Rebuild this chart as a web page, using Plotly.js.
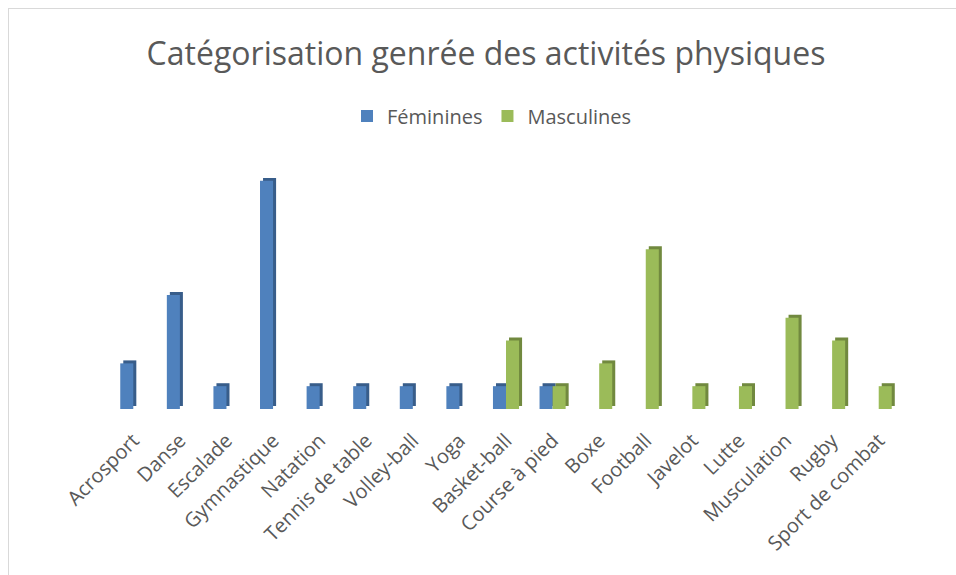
<!DOCTYPE html>
<html>
<head>
<meta charset="utf-8">
<script src="https://cdn.plot.ly/plotly-3.0.1.min.js"></script>
<style>
  html, body { margin: 0; padding: 0; background: #ffffff; overflow: hidden; }
  #wrap { position: relative; width: 956px; height: 575px; }
  #chart { width: 956px; height: 575px; }
  #frame { position: absolute; left: 8px; top: 8px; width: 960px; height: 600px;
           border: 1px solid #d9d9d9; pointer-events: none; box-sizing: border-box; }
</style>
</head>
<body>
<div id="wrap">
  <div id="chart"></div>
  <div id="frame"></div>
</div>
<script>
const categories = ["Acrosport", "Danse", "Escalade", "Gymnastique", "Natation",
  "Tennis de table", "Volley-ball", "Yoga", "Basket-ball", "Course à pied",
  "Boxe", "Football", "Javelot", "Lutte", "Musculation", "Rugby", "Sport de combat"];
const feminines  = [2, 5, 1, 10, 1, 1, 1, 1, 1, 1, null, null, null, null, null, null, null];
const masculines = [null, null, null, null, null, null, null, null, 3, 1, 2, 7, 1, 1, 4, 3, 1];
const seriesNames = ["Féminines", "Masculines"];

const FONT = "Open Sans, Lato, sans-serif";
const blue = "#4F81BD", blueDark = "#385D8A";
const green = "#9BBB59", greenDark = "#71893F";
const W = 0.28, D = 0.065, LIFT = 0.13;

function depth(y, color, off) {
  return { type: "bar", x: categories, y: y, base: LIFT, width: W, offset: off + D,
    marker: { color: color, line: { width: 0 } }, showlegend: false, hoverinfo: "skip" };
}
function front(y, color, off, name) {
  return { type: "bar", x: categories, y: y, width: W, offset: off, name: name,
    marker: { color: color, line: { width: 0 } } };
}

const data = [
  depth(feminines, blueDark, -W),
  front(feminines, blue, -W, seriesNames[0]),
  depth(masculines, greenDark, 0),
  front(masculines, green, 0, seriesNames[1])
];

const layout = {
  width: 956, height: 575,
  margin: { l: 110, r: 54, t: 174, b: 166, pad: 0 },
  paper_bgcolor: "#ffffff", plot_bgcolor: "#ffffff",
  barmode: "overlay",
  font: { family: FONT, color: "#595959" },
  title: { text: "Catégorisation genrée des activités physiques",
    font: { family: FONT, size: 32, color: "#595959" },
    x: 486 / 956, xref: "container", xanchor: "center",
    y: 1 - 54 / 575, yref: "container", yanchor: "middle" },
  legend: { orientation: "h", xref: "container", x: 492 / 956, xanchor: "center",
    yref: "container", y: 1 - 116 / 575, yanchor: "middle",
    font: { family: FONT, size: 20, color: "#595959" }, itemclick: false },
  xaxis: { type: "category", range: [-0.5, 16.5], tickangle: -45,
    tickfont: { family: FONT, size: 20, color: "#595959" },
    ticklabelstandoff: 15,
    showgrid: false, zeroline: false, showline: false, ticks: "", automargin: false,
    fixedrange: true },
  yaxis: { range: [0, 10.3], visible: false, showgrid: false, zeroline: false,
    automargin: false, fixedrange: true },
  showlegend: true
};

Plotly.newPlot("chart", data, layout, { displayModeBar: false, staticPlot: true });
</script>
</body>
</html>
